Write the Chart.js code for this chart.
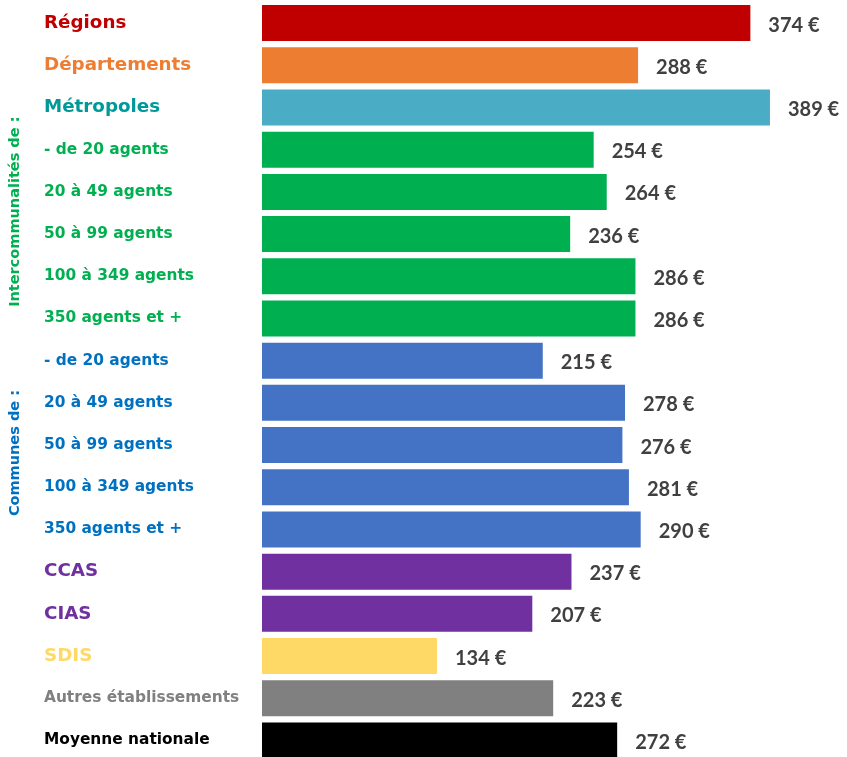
<!DOCTYPE html>
<html lang="fr">
<head>
<meta charset="utf-8">
<script src="https://cdn.jsdelivr.net/npm/chart.js@4.4.1/dist/chart.umd.min.js"></script>
<style>
  html, body { margin: 0; padding: 0; background: #fff; overflow: hidden; }
  canvas { display: block; }
</style>
</head>
<body>
<canvas id="coutChart" width="847" height="762"></canvas>
<script>
// Catégories de collectivités, dans l'ordre d'affichage
var categories = [
    "Régions", "Départements", "Métropoles",
    "- de 20 agents", "20 à 49 agents", "50 à 99 agents", "100 à 349 agents", "350 agents et +",
    "- de 20 agents", "20 à 49 agents", "50 à 99 agents", "100 à 349 agents", "350 agents et +",
    "CCAS", "CIAS", "SDIS", "Autres établissements", "Moyenne nationale"
];

// Montants en euros
var values = [374, 288, 389, 254, 264, 236, 286, 286, 215, 278, 276, 281, 290, 237, 207, 134, 223, 272];

var barColors = [
    "#C00000", "#ED7D31", "#4BACC6",
    "#00B050", "#00B050", "#00B050", "#00B050", "#00B050",
    "#4472C4", "#4472C4", "#4472C4", "#4472C4", "#4472C4",
    "#7030A0", "#7030A0", "#FFD966", "#808080", "#000000"
];

var labelColors = [
    "#C00000", "#ED7D31", "#009999",
    "#00B050", "#00B050", "#00B050", "#00B050", "#00B050",
    "#0070C0", "#0070C0", "#0070C0", "#0070C0", "#0070C0",
    "#7030A0", "#7030A0", "#FFD966", "#808080", "#000000"
];

// grands libellés pour les catégories principales
var bigLabels = [0, 1, 2, 13, 14, 15];

// libellés verticaux des groupes (row = ligne centrale du texte)
var groups = [
    { text: "Intercommunalités de :", row: 4.47, color: "#00B050" },
    { text: "Communes de :", row: 10.19, color: "#0070C0" }
];

var labelFont = "'DejaVu Sans'";
var valueFont = "Lato";

// montant en bout de barre
var valueLabels = {
    id: 'valueLabels',
    afterDatasetsDraw(chart) {
        var ctx = chart.ctx;
        var meta = chart.getDatasetMeta(0);
        ctx.save();
        ctx.font = "bold 20px " + valueFont;
        ctx.fillStyle = "#404040";
        ctx.textAlign = "left";
        ctx.textBaseline = "middle";
        meta.data.forEach((bar, i) => {
            ctx.fillText(values[i] + " €", bar.x + 18, bar.y + 2);
        });
        ctx.restore();
    }
};

// libellés de groupe tournés à 90°
var groupLabels = {
    id: 'groupLabels',
    afterDraw(chart) {
        var ctx = chart.ctx;
        var y = chart.scales.y;
        ctx.save();
        ctx.font = "bold 14.5px " + labelFont;
        ctx.textAlign = "center";
        ctx.textBaseline = "middle";
        groups.forEach(g => {
            ctx.save();
            ctx.translate(15, y.getPixelForValue(g.row));
            ctx.rotate(-Math.PI / 2);
            ctx.fillStyle = g.color;
            ctx.fillText(g.text, 0, 0);
            ctx.restore();
        });
        ctx.restore();
    }
};

new Chart(document.getElementById("coutChart"), {
    type: 'bar',
    data: {
        labels: categories,
        datasets: [{
            data: values,
            backgroundColor: barColors,
            borderWidth: 0,
            barPercentage: 0.853,
            categoryPercentage: 1
        }]
    },
    options: {
        indexAxis: 'y',
        responsive: false,
        animation: false,
        layout: {
            padding: { left: 44, top: 2, right: 0, bottom: 0 }
        },
        plugins: {
            legend: { display: false },
            tooltip: { enabled: false }
        },
        scales: {
            x: {
                display: false,
                min: 0,
                max: 448
            },
            y: {
                grid: { display: false },
                border: { display: false },
                afterFit(scale) {
                    scale.width = 218;
                },
                ticks: {
                    crossAlign: 'far',
                    padding: 0,
                    color: ctx => labelColors[ctx.index],
                    // lineHeight réduit : pas de marge en haut et en bas de l'axe
                    font: ctx => ({
                        family: labelFont,
                        weight: 'bold',
                        lineHeight: 0.05,
                        size: bigLabels.includes(ctx.index) ? 18.3 : 15.4
                    })
                }
            }
        }
    },
    plugins: [valueLabels, groupLabels]
});
</script>
</body>
</html>
